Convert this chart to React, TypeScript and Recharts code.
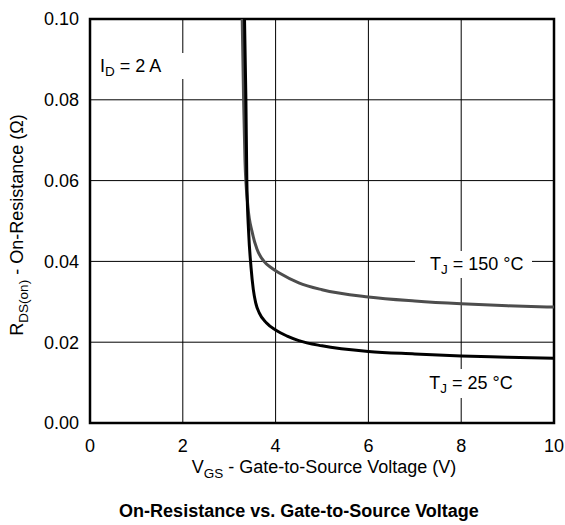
import { LineChart, Line, XAxis, YAxis, CartesianGrid, ReferenceArea } from 'recharts';

const X_TICKS = [0, 2, 4, 6, 8, 10];
const Y_TICKS = [0, 0.02, 0.04, 0.06, 0.08, 0.1];

// T_J = 150 °C
const VGS_150 = [3.28, 3.31, 3.34, 3.4, 3.5, 3.6, 3.75, 3.9, 4.1, 4.5, 5, 6, 7, 8, 9, 10];
const RDS_150 = [0.1, 0.08, 0.065, 0.054, 0.047, 0.043, 0.04, 0.0385, 0.037, 0.0347, 0.033, 0.0312, 0.0302, 0.0295, 0.029, 0.0287];

// T_J = 25 °C
const VGS_25 = [3.33, 3.36, 3.38, 3.42, 3.47, 3.52, 3.57, 3.65, 3.8, 4, 4.25, 4.5, 5, 6, 7, 8, 9, 10];
const RDS_25 = [0.1, 0.08, 0.06, 0.047, 0.0386, 0.033, 0.0298, 0.0272, 0.0248, 0.023, 0.0215, 0.0204, 0.0191, 0.0177, 0.0171, 0.0166, 0.0163, 0.016];

const hot = VGS_150.map((v, i) => ({ v, r: RDS_150[i] }));
const cold = VGS_25.map((v, i) => ({ v, r: RDS_25[i] }));

const FONT = '"Liberation Sans", Arial, sans-serif';
const FS = 18;
const sub = { fontSize: '0.75em', verticalAlign: '-0.3em' } as const;

export default function App() {
  const tick = { fill: '#000', fontSize: FS, fontFamily: FONT };
  return (
    <div style={{ position: 'absolute', left: 0, top: 0, width: 565, height: 525, background: '#fff', fontFamily: FONT, color: '#000' }}>
      <LineChart width={565} height={525} margin={{ top: 19, right: 11, bottom: 0, left: 0 }}>
        <CartesianGrid stroke="#000" strokeWidth={1} />
        <XAxis
          type="number"
          dataKey="v"
          domain={[0, 10]}
          ticks={X_TICKS}
          height={102}
          tickLine={false}
          axisLine={false}
          tickSize={0}
          tickMargin={16}
          tick={tick}
          interval={0}
        />
        <YAxis
          type="number"
          dataKey="r"
          domain={[0, 0.1]}
          ticks={Y_TICKS}
          width={90}
          tickLine={false}
          axisLine={false}
          tickSize={0}
          tickMargin={11}
          tick={tick}
          interval={0}
          tickFormatter={(t: number) => t.toFixed(2)}
        />
        <ReferenceArea x1={0} x2={10} y1={0} y2={0.1} fill="none" stroke="#000" strokeWidth={2.5} fillOpacity={0} />
        <Line data={hot} dataKey="r" type="monotone" stroke="#4d4d4d" strokeWidth={3} dot={false} isAnimationActive={false} />
        <Line data={cold} dataKey="r" type="monotone" stroke="#000" strokeWidth={3} dot={false} isAnimationActive={false} />
      </LineChart>

      <div style={{ position: 'absolute', left: 96, top: 53, width: 92, height: 26, background: '#fff', fontSize: FS, lineHeight: '26px', paddingLeft: 4, boxSizing: 'border-box' }}>
        I<span style={sub}>D</span> = 2 A
      </div>
      <div style={{ position: 'absolute', left: 415, top: 251, width: 117, height: 27, background: '#fff', fontSize: FS, lineHeight: '27px', paddingLeft: 15, boxSizing: 'border-box', whiteSpace: 'nowrap' }}>
        T<span style={sub}>J</span> = 150 °C
      </div>
      <div style={{ position: 'absolute', left: 418, top: 369, width: 106, height: 29, background: '#fff', fontSize: FS, lineHeight: '29px', textAlign: 'center', whiteSpace: 'nowrap' }}>
        T<span style={sub}>J</span> = 25 °C
      </div>

      <div style={{ position: 'absolute', left: 324, top: 469, transform: 'translate(-50%, -50%)', whiteSpace: 'nowrap', fontSize: FS }}>
        V<span style={sub}>GS</span> - Gate-to-Source Voltage (V)
      </div>
      <div style={{ position: 'absolute', left: 19, top: 225, transform: 'translate(-50%, -50%) rotate(-90deg)', whiteSpace: 'nowrap', fontSize: FS }}>
        R<span style={sub}>DS(on)</span> - On-Resistance (Ω)
      </div>
      <div style={{ position: 'absolute', left: 299, top: 511, transform: 'translate(-50%, -50%)', whiteSpace: 'nowrap', fontSize: FS, fontWeight: 'bold' }}>
        On-Resistance vs. Gate-to-Source Voltage
      </div>
    </div>
  );
}
